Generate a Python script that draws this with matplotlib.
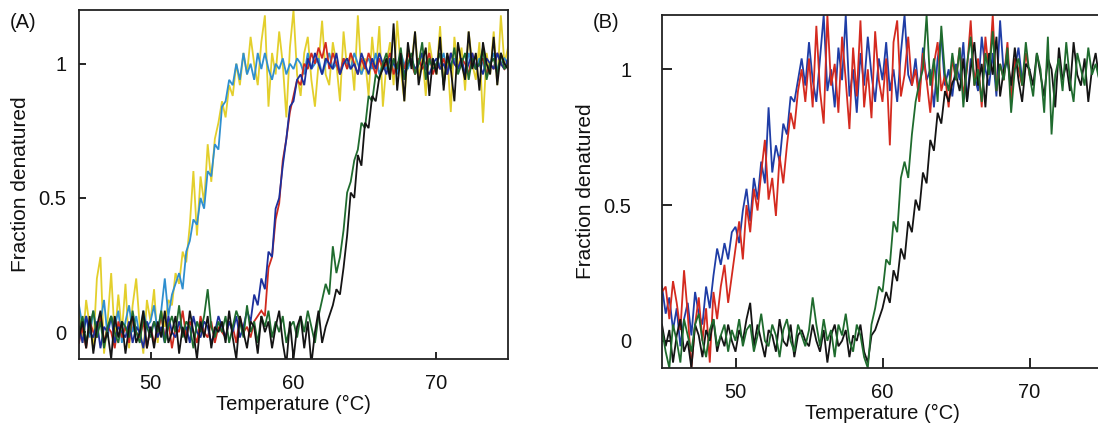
"""Thermal denaturation curves, panels (A) and (B)."""

import matplotlib
matplotlib.use("Agg")
import matplotlib.pyplot as plt
import numpy as np

plt.rcParams["font.family"] = ["Liberation Sans", "DejaVu Sans"]

# temperature scan: starts at 45 C, one reading every 0.25 C
T_START = 45.0
T_STEP = 0.25

# ---- panel A, fraction denatured in percent ----
a_yellow = [
    8, -4, 12, 2, -6, 20, 28, -8, 4, 22, -2, 14, 0, 18, -6, 10, 20, 2, -8, 12,
    4, 16, -4, 8, 2, 12, 10, 22, 18, 30, 26, 40, 60, 36, 58, 48, 70, 56, 72, 78,
    86, 80, 92, 88, 100, 92, 104, 96, 110, 100, 92, 108, 118, 84, 104, 96, 112, 100, 80, 106,
    120, 96, 88, 104, 110, 94, 84, 100, 116, 96, 92, 108, 100, 86, 112, 98, 104, 90, 118, 96,
    102, 88, 110, 96, 114, 84, 100, 108, 92, 116, 98, 86, 106, 100, 112, 94, 104, 88, 108, 100,
    96, 114, 92, 104, 82, 110, 98, 106, 90, 112, 100, 94, 108, 78, 104, 96, 112, 92, 118, 100,
    106,
]
a_lightblue = [
    10, 2, 6, -2, 8, 0, 4, 12, -2, 6, 2, 8, -4, 4, 10, 0, 6, -2, 8, 2,
    4, 10, 0, 8, 20, 6, 14, 18, 22, 16, 30, 34, 42, 40, 50, 46, 60, 58, 70, 68,
    84, 86, 94, 92, 100, 94, 104, 96, 100, 94, 104, 98, 104, 98, 94, 100, 98, 102, 96, 100,
    98, 102, 100, 96, 104, 98, 100, 102, 96, 100, 104, 98, 100, 96, 102, 100, 98, 104, 100, 96,
    100, 102, 98, 104, 96, 100, 98, 102, 100, 96, 104, 100, 98, 102, 96, 100, 104, 98, 100, 102,
    98, 100, 104, 96, 100, 102, 98, 100, 96, 104, 100, 98, 102, 100, 96, 100, 104, 98, 100, 102,
    100,
]
a_red = [
    -4, 2, -6, 4, 0, -2, 6, -4, 2, 0, -6, 4, -2, 2, -4, 6, 0, -2, 4, -6,
    2, -4, 0, 6, -2, 4, -6, 2, 0, 8, -2, 4, 0, -4, 6, 0, -2, 4, -4, 2,
    0, -2, 4, 2, -4, 6, 0, 2, -2, 4, 6, 8, 6, 24, 28, 42, 48, 64, 72, 82,
    88, 94, 92, 100, 98, 104, 100, 106, 102, 108, 98, 104, 100, 96, 102, 98, 104, 100, 96, 102,
    98, 104, 100, 96, 102, 98, 100, 104, 96, 100, 102, 98, 104, 100, 96, 102, 98, 100, 104, 96,
    100, 98, 102, 96, 104, 100, 98, 102, 100, 96, 104, 98, 100, 102, 96, 100, 98, 104, 100, 98,
    100,
]
a_blue = [
    2, -4, 6, 0, -2, 4, -6, 2, 0, 6, -4, 2, 0, -2, 4, -4, 2, 0, -6, 4,
    0, 4, -2, 2, -4, 6, 0, -2, 4, 0, 2, -4, 6, 0, -2, 4, 2, -4, 0, 6,
    2, -2, 4, 0, 6, -2, 2, 8, 4, 14, 10, 20, 16, 30, 28, 46, 50, 62, 72, 84,
    86, 94, 96, 92, 102, 98, 104, 100, 96, 102, 100, 98, 104, 96, 100, 102, 98, 100, 96, 104,
    100, 96, 102, 98, 104, 100, 96, 102, 100, 98, 104, 96, 100, 102, 98, 100, 104, 98, 96, 100,
    102, 98, 100, 96, 104, 100, 98, 102, 96, 100, 104, 98, 100, 96, 102, 100, 98, 104, 100, 98,
    102,
]
a_green = [
    0, 6, -4, 2, 8, -2, 4, -6, 2, 6, 0, -4, 4, 2, -2, 8, 0, -4, 6, 2,
    -2, 4, 0, 8, -4, 2, 6, 0, 10, -2, 4, 2, -6, 4, 0, 6, 16, 2, -2, 4,
    0, 6, -4, 2, 8, 4, -2, 10, 0, 4, -4, 6, 2, 8, -2, 4, 0, 6, -4, 2,
    4, -2, 6, 0, 8, 2, -4, 6, 12, 18, 14, 32, 22, 28, 38, 52, 56, 64, 68, 78,
    76, 88, 86, 96, 94, 100, 104, 96, 102, 98, 106, 94, 100, 104, 96, 100, 108, 94, 102, 98,
    100, 104, 92, 102, 98, 106, 96, 100, 104, 94, 102, 98, 100, 106, 94, 100, 102, 96, 104, 98,
    100,
]
a_black = [
    -2, 4, -6, 6, -8, 2, 8, -4, 0, -10, 6, -2, 4, -8, 2, 6, -4, 0, 8, -6,
    2, -6, 4, -2, 8, -4, 0, 6, -8, 2, -4, 8, 0, -10, 4, -2, 6, -6, 2, 0,
    4, -4, 8, -2, -10, 6, 0, -6, 4, 2, -8, 6, 0, 4, -6, 2, 8, -4, -12, 4,
    -10, 2, 6, -6, 4, -12, 0, 8, -4, 2, 6, 10, 16, 14, 24, 36, 52, 50, 66, 62,
    78, 76, 88, 86, 95, 98, 102, 94, 115, 90, 104, 86, 108, 98, 112, 92, 100, 106, 88, 102,
    96, 110, 90, 104, 98, 86, 108, 100, 94, 112, 98, 104, 90, 108, 100, 96, 110, 92, 104, 100,
    98,
]

# ---- panel B, fraction denatured in percent ----
b_red = [
    18, 20, 8, 22, 14, 4, 26, 10, -10, 6, 16, 0, 12, -8, 18, 8, 20, 28, 14, 24,
    34, 44, 30, 50, 40, 56, 48, 62, 74, 52, 60, 46, 68, 58, 72, 84, 78, 92, 100, 88,
    104, 86, 116, 92, 80, 120, 94, 102, 84, 112, 96, 78, 108, 90, 118, 86, 100, 82, 114, 96,
    88, 104, 72, 110, 118, 90, 98, 112, 94, 100, 88, 106, 96, 84, 102, 110, 92, 98, 86, 104,
    96, 108, 90, 100, 118, 94, 104, 86, 112, 98, 120, 92, 102, 96, 110, 88, 104, 100, 94, 106,
    98,
]
b_blue = [
    20, 10, 16, 4, 12, -2, 8, 14, 2, 18, 10, 6, 20, 12, 24, 34, 28, 36, 30, 40,
    42, 36, 48, 56, 44, 60, 52, 66, 58, 86, 62, 72, 66, 80, 76, 90, 88, 96, 104, 94,
    110, 96, 88, 104, 120, 92, 100, 86, 108, 96, 120, 90, 100, 84, 106, 94, 112, 98, 88, 104,
    96, 110, 92, 100, 88, 106, 120, 98, 94, 104, 90, 108, 96, 100, 86, 104, 112, 94, 100, 90,
    102, 96, 110, 88, 104, 98, 92, 112, 100, 94, 106, 90, 118, 98, 104, 92, 100, 108, 96, 102,
    100,
]
b_green = [
    4, -4, -10, 6, 0, -8, 8, 2, -4, 6, 10, 0, -6, 4, 8, -2, 2, 6, -4, 4,
    0, 8, -2, 4, 6, -4, 2, 10, 0, -2, 6, 2, -6, 4, 8, 0, -4, 6, 2, -2,
    4, 16, 6, -2, 8, 0, 4, -6, 6, 2, 10, 0, -4, 6, 2, -6, -10, 6, 12, 20,
    18, 30, 28, 44, 40, 60, 66, 60, 76, 88, 95, 100, 120, 94, 104, 88, 116, 98, 92, 106,
    96, 108, 86, 102, 112, 94, 100, 88, 106, 98, 114, 92, 102, 96, 108, 84, 100, 104, 94, 110,
    98, 90, 106, 100, 84, 112, 76, 98, 104, 92, 110, 96, 88, 106, 100, 94, 108, 98, 102, 96,
    100,
]
b_black = [
    6, -2, 4, -8, 2, 8, -4, 0, -10, 6, 2, -6, 4, 0, 8, -4, 2, -2, 6, 0,
    -4, 4, 0, 8, 14, -2, 6, 0, -6, 4, 2, -4, 8, 0, -2, 6, -6, 2, 4, 0,
    -2, 6, 0, -4, 4, -8, 2, 6, -2, 0, 4, -6, 2, 0, 6, -4, -8, 2, 4, 8,
    12, 18, 14, 26, 22, 34, 30, 44, 40, 52, 48, 62, 58, 74, 70, 84, 80, 92, 88, 95,
    98, 92, 104, 88, 100, 110, 94, 102, 86, 106, 98, 112, 90, 100, 104, 94, 108, 96, 88, 102,
    100, 94, 106, 98, 90, 104, 100, 86, 108, 96, 102, 92, 110, 98, 94, 104, 88, 100, 106, 96,
    98,
]

x_ticks = [50, 60, 70]
y_ticks = [0, 0.5, 1]
y_tick_labels = ["0", "0.5", "1"]

panel_a = [
    (a_yellow, "#e3cf2c"),
    (a_lightblue, "#2f8fcf"),
    (a_red, "#d02a1e"),
    (a_blue, "#1c2f9c"),
    (a_green, "#1f6b2e"),
    (a_black, "#141414"),
]
panel_b = [
    (b_blue, "#1f3da6"),
    (b_red, "#d42a1f"),
    (b_black, "#141414"),
    (b_green, "#1f6b2e"),
]

TXT = "#111111"


def draw_panel(ax, series, ylab_pad, tick_len):
    for vals, color in series:
        y = np.array(vals, dtype=float) / 100.0
        x = T_START + T_STEP * np.arange(len(y))
        ax.plot(x, y, color=color, lw=1.3, solid_joinstyle="miter")
    ax.set_xlim(45, 75)
    ax.set_ylim(-0.1, 1.2)
    ax.set_xticks(x_ticks)
    ax.set_yticks(y_ticks)
    ax.set_yticklabels(y_tick_labels)
    ax.tick_params(direction="in", length=tick_len, width=1.2, labelsize=14.5,
                   labelcolor=TXT, top=False, right=False)
    ax.tick_params(axis="y", pad=ylab_pad)
    ax.tick_params(axis="x", pad=11)
    for sp in ax.spines.values():
        sp.set_linewidth(1.3)
        sp.set_color("#222222")
    ax.set_xlabel("Temperature (°C)", fontsize=14.5, color=TXT, labelpad=1)
    ax.set_ylabel("Fraction denatured", fontsize=15, color=TXT, labelpad=6)


W, H = 1098, 429
fig = plt.figure(figsize=(W / 100, H / 100), dpi=100)

ax_a = fig.add_axes([79 / W, 1 - 359 / H, (508 - 79) / W, (359 - 10) / H])
draw_panel(ax_a, panel_a, 9, 5)

ax_b = fig.add_axes([662 / W, 1 - 368 / H, 441 / W, (368 - 15) / H])
draw_panel(ax_b, panel_b, 22, 7)

fig.text(10 / W, 1 - 22 / H, "(A)", fontsize=14.5, color=TXT, va="center", ha="left")
fig.text(593 / W, 1 - 22 / H, "(B)", fontsize=14.5, color=TXT, va="center", ha="left")

fig.savefig("out.png", dpi=100)
plt.close(fig)
